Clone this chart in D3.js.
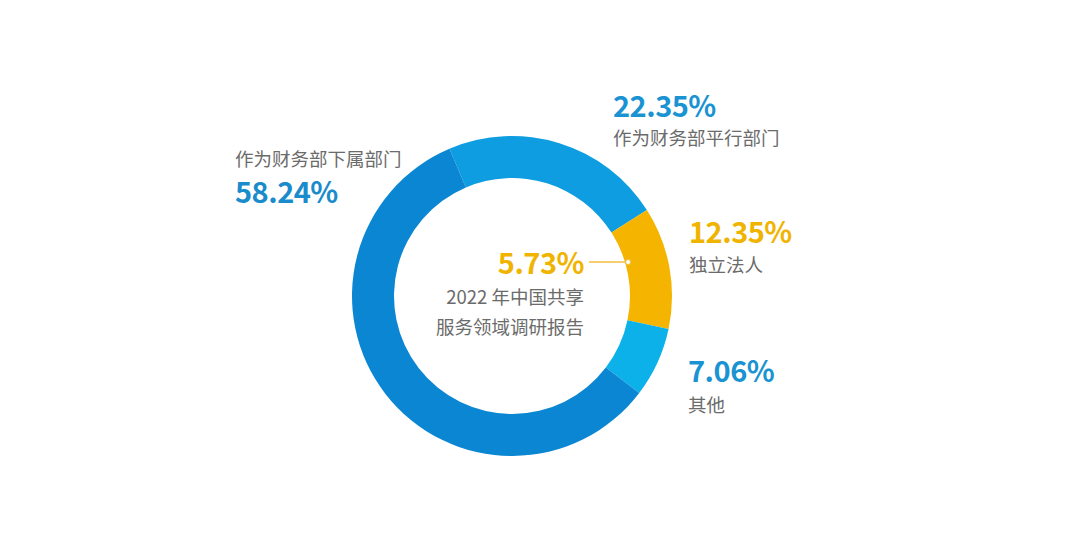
<!DOCTYPE html>
<html>
<head>
<meta charset="utf-8">
<script src="https://cdn.jsdelivr.net/npm/d3@7"></script>
<style>
  body { margin: 0; background: #fff; }
  svg { display: block; font-family: "Noto Sans CJK SC", "Open Sans", sans-serif; }
</style>
</head>
<body>
<svg id="drawing_region"></svg>
<script>
// slices in clockwise order, starting just left of 12 o'clock
const categories = ['作为财务部平行部门', '独立法人', '其他', '作为财务部下属部门'];
const values = [22.35, 12.35, 7.06, 58.24];
const colors = ['#0d9de0', '#f5b400', '#0cb1ea', '#0a86d3'];
const labelColors = ['#1a93d2', '#f0b400', '#1a93d2', '#1a8bcb'];
// callout inside the ring (share of the 独立法人 slice)
const calloutValue = 5.73;
const centerLines = ['2022 年中国共享', '服务领域调研报告'];

const config = {
  width: 1080,
  height: 549,
  cx: 512,
  cy: 296,
  outer: 160,
  inner: 118,
  start: -23
};

const svg = d3.select('#drawing_region')
  .attr('width', config.width)
  .attr('height', config.height);

const rad = config.start * Math.PI / 180;
const pie = d3.pie().sort(null).value(d => d)
  .startAngle(rad).endAngle(rad + 2 * Math.PI);
const arc = d3.arc().innerRadius(config.inner).outerRadius(config.outer);
const arcs = pie(values);

const ring = svg.append('g').attr('transform', `translate(${config.cx}, ${config.cy})`);
ring.selectAll('path')
  .data(arcs)
  .join('path')
  .attr('d', arc)
  .attr('fill', (d, i) => colors[i]);

// outside labels: x, value baseline, name baseline
const labelPos = [
  { x: 613, vy: 117, ny: 145 },
  { x: 689, vy: 243, ny: 272 },
  { x: 688, vy: 382, ny: 412 },
  { x: 235, vy: 203, ny: 166 }
];
const labels = svg.append('g');
labelPos.forEach((p, i) => {
  labels.append('text')
    .attr('x', p.x).attr('y', p.vy)
    .attr('font-size', 29).attr('font-weight', 700)
    .attr('letter-spacing', -0.5)
    .attr('fill', labelColors[i])
    .text(values[i].toFixed(2) + '%');
  labels.append('text')
    .attr('x', p.x).attr('y', p.ny)
    .attr('font-size', 18.5)
    .attr('fill', '#6b6b6b')
    .text(categories[i]);
});

// callout pointing at the inner edge of the yellow slice
const yellow = arcs[1];
const pa = yellow.startAngle + (yellow.endAngle - yellow.startAngle) * 0.365;
const px = config.cx + (config.inner + 3) * Math.sin(pa);
const py = config.cy - (config.inner + 3) * Math.cos(pa);
const centre = svg.append('g');
centre.append('line')
  .attr('x1', 589).attr('y1', py).attr('x2', px - 2.6).attr('y2', py)
  .attr('stroke', '#f0c040').attr('stroke-width', 1.3);
centre.append('circle')
  .attr('cx', px).attr('cy', py).attr('r', 2.6)
  .attr('fill', '#fff').attr('stroke', '#f0c040').attr('stroke-width', 1.2);
centre.append('text')
  .attr('x', 584).attr('y', 274)
  .attr('text-anchor', 'end')
  .attr('font-size', 29).attr('font-weight', 700)
  .attr('letter-spacing', -0.5)
  .attr('fill', '#f0b400')
  .text(calloutValue.toFixed(2) + '%');
centre.selectAll('text.sub')
  .data(centerLines)
  .join('text')
  .attr('class', 'sub')
  .attr('x', 584)
  .attr('y', (d, i) => 304 + i * 30)
  .attr('text-anchor', 'end')
  .attr('font-size', 18.5)
  .attr('fill', '#6b6b6b')
  .text(d => d);
</script>
</body>
</html>
